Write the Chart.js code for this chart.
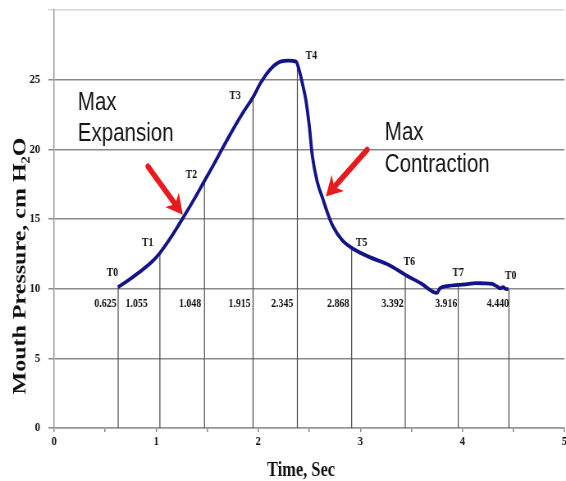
<!DOCTYPE html>
<html>
<head>
<meta charset="utf-8">
<script src="https://cdn.jsdelivr.net/npm/chart.js@4.4.1/dist/chart.umd.min.js"></script>
<style>
    html, body { margin: 0; padding: 0; background: #fff; overflow: hidden; }
    /* the source picture is squeezed sideways, so draw wide and squeeze */
    #wrap {
        position: absolute; left: 0; top: 0;
        width: 690px; height: 481px;
        transform: scaleX(0.8203);
        transform-origin: 0 0;
    }
</style>
</head>
<body>
<div id="wrap"><canvas id="pressureChart"></canvas></div>
<script>
// Mouth pressure trace (Time, Sec -> cm H2O)
const timeSec = [0.625, 0.708, 0.838, 0.968, 1.04, 1.15, 1.26, 1.37, 1.47, 1.57, 1.636, 1.75, 1.847, 1.945,
    2.026, 2.107, 2.19, 2.29, 2.37, 2.40, 2.43, 2.466, 2.50, 2.53, 2.58, 2.63, 2.68, 2.73, 2.82, 2.92, 3.08, 3.28,
    3.44, 3.60, 3.75, 3.78, 3.865, 3.96, 4.05, 4.126, 4.21, 4.29, 4.34, 4.37, 4.40, 4.42, 4.45];
const pressure = [10.1, 10.5, 11.2, 12.0, 12.6, 13.75, 15.05, 16.4, 17.7, 19.0, 19.9, 21.4, 22.6, 23.7,
    24.8, 25.65, 26.2, 26.36, 26.3, 25.7, 24.8, 23.55, 21.65, 19.5, 17.6, 16.5, 15.4, 14.5, 13.5, 12.9, 12.3, 11.7,
    11.0, 10.35, 9.7, 10.03, 10.2, 10.27, 10.32, 10.4, 10.38, 10.34, 10.15, 10.03, 10.1, 10.0, 9.96];

// Marked instants
const markNames = ['T0', 'T1', 'T2', 'T3', 'T4', 'T5', 'T6', 'T7', 'T0'];
const markTime = [0.627, 1.036, 1.473, 1.949, 2.383, 2.915, 3.44, 3.959, 4.456];
const markPressure = [10.1, 12.55, 17.75, 23.75, 26.3, 12.95, 11.05, 10.27, 9.98];
const markTimeLabels = ['0.625', '1.055', '1.048', '1.915', '2.345', '2.868', '3.392', '3.916', '4.440'];

// Axis tick labels
const xTickLabels = ['0', '1', '2', '3', '4', '5'];
const yTickLabels = ['0', '5', '10', '15', '20', '25'];

const serif = '"Liberation Serif", "Times New Roman", "DejaVu Serif", serif';
const sans = '"Liberation Sans", Arial, sans-serif';

// vertical lines from the axis up to the trace, split by gaps
const markLines = [];
markTime.forEach(function(t, i) {
    markLines.push({ x: t, y: 0 }, { x: t, y: markPressure[i] }, { x: t + 0.001, y: null });
});

// label offsets in pixels (style only)
const nameOffsets = [[-7, -14], [-15, -10], [-16, -6], [-22, -1], [17, -6], [12, -5], [5, -12], [0, -12], [2, -13]];
const valueDx = [-2, -15, -4, -3, -5, -3, -2, -1, 0];

function drawArrow(ctx, x1, y1, x2, y2) {
    const a = Math.atan2(y2 - y1, x2 - x1);
    const head = 20, half = 11, notch = 6;
    const bx = x2 - head * Math.cos(a), by = y2 - head * Math.sin(a);
    const nx = x2 - (head - notch) * Math.cos(a), ny = y2 - (head - notch) * Math.sin(a);
    ctx.strokeStyle = '#e81a1e';
    ctx.fillStyle = '#e81a1e';
    ctx.lineWidth = 6;
    ctx.lineCap = 'round';
    ctx.beginPath();
    ctx.moveTo(x1, y1);
    ctx.lineTo(nx, ny);
    ctx.stroke();
    ctx.beginPath();
    ctx.moveTo(x2, y2);
    ctx.lineTo(bx + half * Math.sin(a), by - half * Math.cos(a));
    ctx.lineTo(nx, ny);
    ctx.lineTo(bx - half * Math.sin(a), by + half * Math.cos(a));
    ctx.closePath();
    ctx.fill();
}

const overlay = {
    id: 'overlay',
    afterDraw: function(chart) {
        const ctx = chart.ctx;
        const x = chart.scales.x, y = chart.scales.y;
        ctx.save();
        ctx.fillStyle = '#111';

        // T names
        ctx.font = 'bold 12px ' + serif;
        ctx.textAlign = 'center';
        ctx.textBaseline = 'middle';
        markNames.forEach(function(n, i) {
            ctx.fillText(n, x.getPixelForValue(markTime[i]) + nameOffsets[i][0],
                y.getPixelForValue(markPressure[i]) + nameOffsets[i][1]);
        });

        // time values under the 10 line
        ctx.textAlign = 'right';
        markTimeLabels.forEach(function(t, i) {
            ctx.fillText(t, x.getPixelForValue(markTime[i]) + valueDx[i], y.getPixelForValue(10) + 15);
        });

        // annotations
        ctx.font = '25px ' + sans;
        ctx.textAlign = 'left';
        ctx.textBaseline = 'alphabetic';
        ctx.fillStyle = '#151515';
        ctx.fillText('Max', x.getPixelForValue(0.232), y.getPixelForValue(22.84));
        ctx.fillText('Expansion', x.getPixelForValue(0.232), y.getPixelForValue(22.84) + 31.5);
        ctx.fillText('Max', x.getPixelForValue(3.24), y.getPixelForValue(20.69));
        ctx.fillText('Contraction', x.getPixelForValue(3.24), y.getPixelForValue(20.69) + 32);

        drawArrow(ctx, x.getPixelForValue(0.919), y.getPixelForValue(18.77), x.getPixelForValue(1.261), y.getPixelForValue(15.3));
        drawArrow(ctx, x.getPixelForValue(3.067), y.getPixelForValue(19.97), x.getPixelForValue(2.661), y.getPixelForValue(16.62));

        // axis titles
        ctx.fillStyle = '#111';
        ctx.font = 'bold 20px ' + serif;
        ctx.textAlign = 'center';
        ctx.fillText('Time, Sec', 367, 476);

        ctx.translate(31, 266);
        ctx.rotate(-Math.PI / 2);
        ctx.font = 'bold 24px ' + serif;
        ctx.fillText('Mouth Pressure, cm H\u2082O', 0, 0);
        ctx.restore();
    }
};

document.addEventListener('DOMContentLoaded', function() {
    const ctx = document.getElementById('pressureChart').getContext('2d');
    new Chart(ctx, {
        type: 'line',
        data: {
            datasets: [
                {
                    label: 'Mouth Pressure',
                    data: timeSec.map(function(t, i) { return { x: t, y: pressure[i] }; }),
                    borderColor: '#14148a',
                    borderWidth: 3.8,
                    pointRadius: 0,
                    cubicInterpolationMode: 'monotone',
                    order: 0
                },
                {
                    label: 'Marks',
                    data: markLines,
                    borderColor: '#4a4a4a',
                    borderWidth: 1.2,
                    pointRadius: 0,
                    spanGaps: false,
                    order: 1
                }
            ]
        },
        options: {
            animation: false,
            responsive: true,
            maintainAspectRatio: false,
            layout: { padding: { top: 10, left: 0, right: 0, bottom: 0 } },
            plugins: {
                legend: { display: false },
                tooltip: { enabled: false }
            },
            scales: {
                x: {
                    type: 'linear',
                    min: 0,
                    max: 5,
                    ticks: {
                        stepSize: 0.5,
                        autoSkip: false,
                        maxRotation: 0,
                        padding: 2,
                        color: '#111',
                        font: { family: serif, size: 13, weight: 'bold' },
                        callback: function(value) {
                            return Number.isInteger(value) ? xTickLabels[value] : '';
                        }
                    },
                    grid: { drawOnChartArea: false, tickLength: 4, color: '#8a8a8a', lineWidth: 1.5 },
                    border: { color: '#999', width: 1.5 },
                    afterFit: function(s) { s.height = 53; s.paddingLeft = 0; s.paddingRight = 0; }
                },
                y: {
                    min: 0,
                    max: 30,
                    ticks: {
                        stepSize: 5,
                        padding: 10,
                        color: '#111',
                        font: { family: serif, size: 13, weight: 'bold' },
                        callback: function(value) {
                            return yTickLabels[value / 5] || '';
                        }
                    },
                    grid: {
                        color: function(c) { return c.tick && c.tick.value === 30 ? '#d6d6d6' : '#8a8a8a'; },
                        lineWidth: 1.5,
                        tickLength: 7
                    },
                    border: { color: '#999', width: 1.5 },
                    afterFit: function(s) { s.width = 66; s.paddingTop = 0; s.paddingBottom = 0; }
                }
            }
        },
        plugins: [overlay]
    });
});
</script>
</body>
</html>
